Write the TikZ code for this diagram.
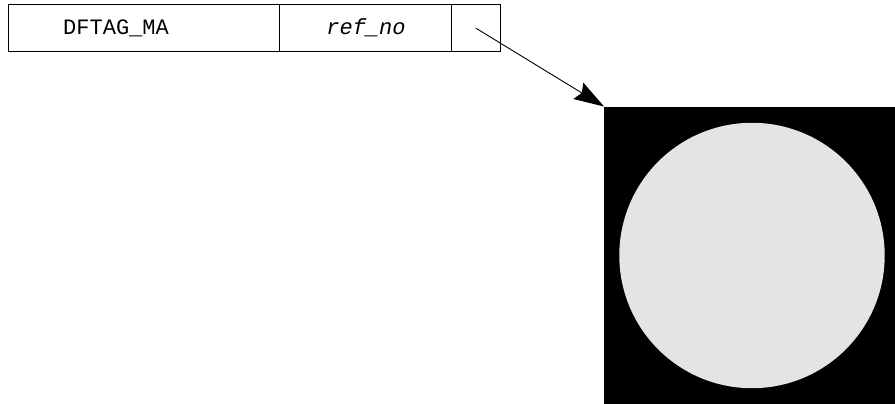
\documentclass[tikz,border=0pt]{standalone}
\usepackage{fontspec}
\setmonofont{Liberation Mono}
\usetikzlibrary{arrows.meta}
\definecolor{circgray}{HTML}{E4E4E4}
\tikzset{
  cellbox/.style={draw=black, line width=1.4pt, minimum height=47pt, inner sep=0pt, anchor=north west},
  celltext/.style={font=\fontsize{22pt}{24pt}\selectfont\ttfamily, inner sep=0pt},
  pointer/.style={line width=0.9pt, -{Stealth[length=30pt,width=19pt,inset=4pt]}}
}
\begin{document}
\begin{tikzpicture}[x=1pt,y=-1pt]
\clip (0,0) rectangle (895,404);
\fill[white] (0,0) rectangle (895,404);
% table
\node[cellbox, minimum width=270.5pt] (c1) at (8,4) {};
\node[cellbox, minimum width=172.5pt] (c2) at (278.5,4) {};
\node[cellbox, minimum width=48.5pt] (c3) at (451,4) {};
\node[celltext, anchor=base west] (t1) at (63,35) {DFTAG\_MA};
\node[celltext, anchor=base] (t2) at (366,35) {\itshape ref\_no};
% image
\node[fill=black, draw=none, minimum width=300pt, minimum height=310pt, inner sep=0pt, anchor=north west] (sq) at (604,106.5) {};
\node[circle, fill=circgray, draw=none, minimum size=265.4pt, inner sep=0pt] (ci) at (752,255.5) {};
% pointer
\draw[pointer] (c3.center) -- (sq.north west);
\end{tikzpicture}
\end{document}
